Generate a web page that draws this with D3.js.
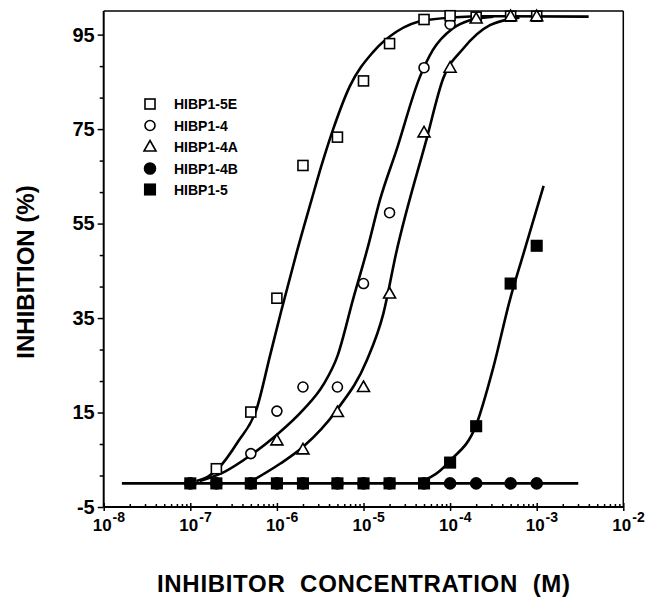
<!DOCTYPE html>
<html>
<head>
<meta charset="utf-8">
<script src="https://cdnjs.cloudflare.com/ajax/libs/d3/7.8.5/d3.min.js"></script>
<style>
body { margin: 0; background: #fff; }
svg { display: block; }
text { font-family: "Liberation Sans", Arial, sans-serif; font-weight: bold; fill: #000; }
</style>
</head>
<body>
<div id="chart"></div>
<script>
// measured points, inhibitor concentration (M) vs inhibition (%)
var concentrations = [1e-7, 2e-7, 5e-7, 1e-6, 2e-6, 5e-6, 1e-5, 2e-5, 5e-5, 1e-4, 2e-4, 5e-4, 1e-3];
var hibp15e = [null, 3.1, 15.1, 39.2, 67.3, 73.3, 85.2, 93.1, 98.2, 99.0, 98.7, 98.9, 98.9];
var hibp14  = [null, null, 6.3, 15.3, 20.4, 20.4, 42.3, 57.3, 88.0, 97.2, null, null, null];
var hibp14a = [null, null, null, 9.1, 7.2, 15.1, 20.4, 40.2, 74.3, 88.0, 98.4, 98.9, 98.9];
var hibp14b = [0, 0, 0, 0, 0, 0, 0, 0, 0, 0, 0, 0, 0];
var hibp15  = [0, 0, 0, 0, 0, 0, 0, 0, 0, 4.4, 12.1, 42.3, 50.3];

// fitted curves: [log10 concentration, inhibition]
var fitBase = [[-7.79, 0], [-2.52, 0]];
var fit15e = [[-6.93, 0.5], [-6.8, 1.4], [-6.68, 3.1], [-6.45, 8.8], [-6.23, 16], [-6.08, 27], [-5.95, 36.5],
              [-5.77, 49], [-5.6, 60], [-5.49, 67], [-5.35, 75], [-5.16, 84], [-4.89, 91.3], [-4.62, 95.6],
              [-4.27, 98.1], [-3.6, 98.9], [-2.4, 98.8]];
var fit14 = [[-6.89, 0.5], [-6.6, 2.5], [-6.3, 6], [-6.0, 10.3], [-5.7, 15.5], [-5.46, 21], [-5.3, 27],
             [-5.12, 39], [-4.95, 50], [-4.81, 60], [-4.62, 70.5], [-4.35, 86], [-4.2, 91.7], [-3.97, 96.3],
             [-3.78, 98], [-3.5, 98.8]];
var fit14a = [[-6.29, 0.5], [-5.96, 4.2], [-5.7, 7.7], [-5.31, 15.5], [-4.96, 26.1], [-4.77, 36], [-4.62, 49],
              [-4.27, 73], [-4.08, 85.7], [-3.85, 92], [-3.54, 97], [-3.2, 98.6]];
var fit15 = [[-4.35, 0.2], [-4.12, 2.6], [-4.0, 4.8], [-3.7, 12.3], [-3.5, 24.6], [-3.31, 38.8], [-3.155, 48.5],
             [-2.92, 63]];

var yMajor = [-5, 15, 35, 55, 75, 95];
var xMajor = [1e-8, 1e-7, 1e-6, 1e-5, 1e-4, 1e-3, 1e-2];
var xExponents = ["-8", "-7", "-6", "-5", "-4", "-3", "-2"];
var legendNames = ["HIBP1-5E", "HIBP1-4", "HIBP1-4A", "HIBP1-4B", "HIBP1-5"];

function drawChart() {
    var w = 659;
    var h = 598;
    var left = 103.7, right = 623.3, top = 11, bottom = 507;

    var svg = d3.select("#chart")
            .append("svg")
            .attr("width", w)
            .attr("height", h);

    var x = d3.scaleLog().domain([1e-8, 1e-2]).range([left, right]);
    var y = d3.scaleLinear().domain([-5, 100]).range([bottom, top]);

    // minor ticks
    var yMinor = [];
    for (var i = 0; i < yMajor.length - 1; i++) {
        yMinor.push(yMajor[i] + 20 / 3, yMajor[i] + 40 / 3);
    }
    var xMinor = [];
    xMajor.slice(0, -1).forEach(function (d) {
        for (var k = 2; k < 10; k++) xMinor.push(d * k);
    });

    var yAxis = svg.append("g")
        .attr("transform", "translate(" + left + ",0)")
        .call(d3.axisLeft(y).tickValues(yMajor).tickSize(6).tickPadding(3)
            .tickFormat(function (d) { return String(d); }));
    yAxis.selectAll("text").style("font-size", "20px");
    svg.append("g")
        .attr("transform", "translate(" + left + ",0)")
        .call(d3.axisLeft(y).tickValues(yMinor).tickSize(4).tickFormat(""));

    svg.append("g")
        .attr("transform", "translate(0," + bottom + ")")
        .call(d3.axisBottom(x).tickValues(xMajor).tickSize(4).tickFormat(""))
        .selectAll(".tick line").attr("y1", -4);
    svg.append("g")
        .attr("transform", "translate(0," + bottom + ")")
        .call(d3.axisBottom(x).tickValues(xMinor).tickSize(-3).tickFormat(""));

    svg.selectAll(".domain").remove();
    svg.selectAll(".tick line").attr("stroke", "#000").attr("stroke-width", 1.5);

    // x tick labels: 10 with superscript exponent
    var xl = svg.append("g").selectAll("text")
        .data(xMajor)
        .enter()
        .append("text")
        .attr("x", function (d) { return x(d) - 11; })
        .attr("y", 531)
        .style("font-size", "17px");
    xl.append("tspan").text("10");
    xl.append("tspan")
        .attr("dy", -9)
        .attr("dx", 1)
        .style("font-size", "14px")
        .text(function (d, i) { return xExponents[i]; });

    // frame
    svg.append("line").attr("x1", left).attr("x2", left).attr("y1", top).attr("y2", bottom)
        .attr("stroke", "#000").attr("stroke-width", 2);
    svg.append("line").attr("x1", left).attr("x2", right).attr("y1", bottom).attr("y2", bottom)
        .attr("stroke", "#000").attr("stroke-width", 2);
    svg.append("line").attr("x1", left).attr("x2", right).attr("y1", top).attr("y2", top)
        .attr("stroke", "#000").attr("stroke-width", 1.3);
    svg.append("line").attr("x1", right).attr("x2", right).attr("y1", top).attr("y2", bottom)
        .attr("stroke", "#000").attr("stroke-width", 1.5);

    // fitted curves
    var line = d3.line()
        .x(function (d) { return x(Math.pow(10, d[0])); })
        .y(function (d) { return y(d[1]); })
        .curve(d3.curveMonotoneX);
    svg.selectAll("path.fit")
        .data([fitBase, fit15e, fit14, fit14a, fit15])
        .enter()
        .append("path")
        .attr("class", "fit")
        .attr("d", line)
        .attr("fill", "none")
        .attr("stroke", "#000")
        .attr("stroke-width", 2.6);

    // markers
    var shapes = [
        { values: hibp14b, type: "circle", fill: "#000" },
        { values: hibp15, type: "square", fill: "#000" },
        { values: hibp14, type: "circle", fill: "#fff" },
        { values: hibp15e, type: "square", fill: "#fff" },
        { values: hibp14a, type: "triangle", fill: "#fff" }
    ];
    shapes.forEach(function (s) {
        var pts = concentrations.map(function (c, i) { return [c, s.values[i]]; })
            .filter(function (d) { return d[1] !== null; });
        drawMarkers(svg, pts.map(function (d) { return [x(d[0]), y(d[1])]; }), s.type, s.fill);
    });

    // legend
    var legendTypes = [["square", "#fff"], ["circle", "#fff"], ["triangle", "#fff"], ["circle", "#000"], ["square", "#000"]];
    var legendY = [104, 125.5, 146.5, 168.5, 189.5];
    legendNames.forEach(function (name, i) {
        drawMarkers(svg, [[150, legendY[i]]], legendTypes[i][0], legendTypes[i][1]);
        svg.append("text")
            .attr("x", 174)
            .attr("y", legendY[i] + 5)
            .style("font-size", "14px")
            .text(name);
    });

    // axis titles
    svg.append("text")
        .attr("x", (left + right) / 2)
        .attr("y", 592)
        .attr("text-anchor", "middle")
        .attr("textLength", 413)
        .attr("lengthAdjust", "spacing")
        .style("font-size", "24px")
        .style("white-space", "pre")
        .text("INHIBITOR  CONCENTRATION  (M)");
    svg.append("text")
        .attr("transform", "translate(34,272) rotate(-90)")
        .attr("text-anchor", "middle")
        .style("font-size", "24px")
        .text("INHIBITION (%)");
}

function drawMarkers(svg, pts, type, fill) {
    var g = svg.append("g");
    var filled = fill === "#000";
    if (type === "circle") {
        g.selectAll("circle").data(pts).enter().append("circle")
            .attr("cx", function (d) { return d[0]; })
            .attr("cy", function (d) { return d[1]; })
            .attr("r", filled ? 5.5 : 5)
            .attr("fill", fill).attr("stroke", "#000").attr("stroke-width", 1.6);
    } else if (type === "square") {
        var s = filled ? 10.5 : 10;
        g.selectAll("rect").data(pts).enter().append("rect")
            .attr("x", function (d) { return d[0] - s / 2; })
            .attr("y", function (d) { return d[1] - s / 2; })
            .attr("width", s).attr("height", s)
            .attr("fill", fill).attr("stroke", "#000").attr("stroke-width", 1.6);
    } else {
        g.selectAll("path").data(pts).enter().append("path")
            .attr("d", function (d) {
                return "M" + d[0] + "," + (d[1] - 6) + "L" + (d[0] + 6) + "," + (d[1] + 4.5) +
                    "L" + (d[0] - 6) + "," + (d[1] + 4.5) + "Z";
            })
            .attr("fill", fill).attr("stroke", "#000").attr("stroke-width", 1.6);
    }
}

window.onload = drawChart;
</script>
</body>
</html>
